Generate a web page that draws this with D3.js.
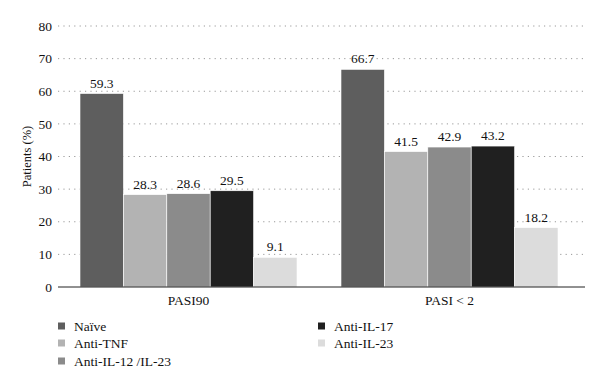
<!DOCTYPE html>
<meta charset="utf-8">
<style>
body { margin: 0; background: #fff; }
text { font-family: "Liberation Serif", "Times New Roman", serif; fill: #111; }
.grid line { stroke: #999; stroke-dasharray: 1.2,4.2; }
</style>
<div id="chart"></div>
<script src="https://d3js.org/d3.v7.min.js"></script>
<script>
// data
var categories = ["PASI90", "PASI < 2"];
var series = ["Naïve", "Anti-TNF", "Anti-IL-12 /IL-23", "Anti-IL-17", "Anti-IL-23"];
var naive = [59.3, 66.7];
var antiTNF = [28.3, 41.5];
var antiIL12 = [28.6, 42.9];
var antiIL17 = [29.5, 43.2];
var antiIL23 = [9.1, 18.2];
var yTicks = [0, 10, 20, 30, 40, 50, 60, 70, 80];

var values = [naive, antiTNF, antiIL12, antiIL17, antiIL23];
var colors = ["#5e5e5e", "#b3b3b3", "#8b8b8b", "#202020", "#dcdcdc"];

var width = 600, height = 386;
var svg = d3.select("#chart").append("svg")
  .attr("width", width).attr("height", height);

var x0 = d3.scaleBand().domain(categories).range([58, 580]);
var x1 = d3.scaleBand().domain(series).range([22, x0.bandwidth() - 22]);
var y = d3.scaleLinear().domain([0, 80]).range([287, 26]);

// grid
svg.append("g").attr("class", "grid")
  .selectAll("line").data(yTicks.slice(1)).enter().append("line")
    .attr("x1", 58).attr("x2", 585)
    .attr("y1", function(d) { return y(d); })
    .attr("y2", function(d) { return y(d); });

// y tick labels
svg.append("g").selectAll("text").data(yTicks).enter().append("text")
  .attr("x", 52).attr("y", function(d) { return y(d); })
  .attr("dy", "0.35em").attr("text-anchor", "end")
  .style("font-size", "13.5px")
  .text(function(d) { return d; });

// y title
svg.append("text")
  .attr("transform", "translate(31," + y(40) + ") rotate(-90)")
  .attr("text-anchor", "middle")
  .style("font-size", "12.5px")
  .text("Patients (%)");

// bars
var groups = svg.append("g").selectAll("g").data(categories).enter().append("g")
  .attr("transform", function(d) { return "translate(" + x0(d) + ",0)"; });

groups.each(function(cat, ci) {
  var g = d3.select(this);
  var rows = series.map(function(s, si) { return {s: s, v: values[si][ci], c: colors[si]}; });
  g.selectAll("rect").data(rows).enter().append("rect")
    .attr("x", function(d) { return x1(d.s); })
    .attr("width", x1.bandwidth())
    .attr("y", function(d) { return y(d.v); })
    .attr("height", function(d) { return y(0) - y(d.v); })
    .attr("fill", function(d) { return d.c; })
    .attr("stroke", "#fff").attr("stroke-width", 0.6);
  g.selectAll("text.val").data(rows).enter().append("text")
    .attr("class", "val")
    .attr("x", function(d) { return x1(d.s) + x1.bandwidth() / 2; })
    .attr("y", function(d) { return y(d.v) - 6; })
    .attr("text-anchor", "middle")
    .style("font-size", "13.5px")
    .text(function(d) { return d.v; });
});

// x axis line
svg.append("line")
  .attr("x1", 58).attr("x2", 585)
  .attr("y1", y(0)).attr("y2", y(0))
  .attr("stroke", "#222").attr("stroke-width", 1);

// category labels
svg.append("g").selectAll("text").data(categories).enter().append("text")
  .attr("x", function(d) { return x0(d) + x0.bandwidth() / 2; })
  .attr("y", 300).attr("dy", "0.35em")
  .attr("text-anchor", "middle")
  .style("font-size", "13.5px")
  .text(function(d) { return d; });

// legend
var legendPos = [[58, 326], [58, 343], [58, 361], [318, 326], [318, 343]];
var legend = svg.append("g").selectAll("g").data(series).enter().append("g")
  .attr("transform", function(d, i) { return "translate(" + legendPos[i][0] + "," + legendPos[i][1] + ")"; });
legend.append("rect")
  .attr("x", 0).attr("y", -3.5).attr("width", 7).attr("height", 7)
  .attr("fill", function(d, i) { return colors[i]; });
legend.append("text")
  .attr("x", 16).attr("dy", "0.35em")
  .style("font-size", "13.5px")
  .text(function(d) { return d; });
</script>
